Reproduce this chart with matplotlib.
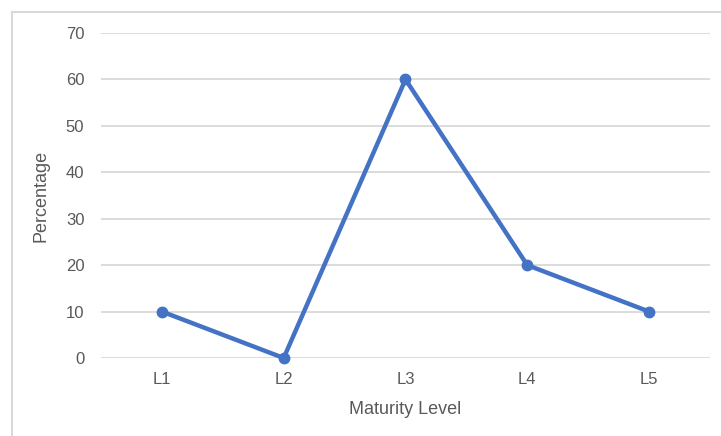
import matplotlib.pyplot as plt
from matplotlib.lines import Line2D

levels = ['L1', 'L2', 'L3', 'L4', 'L5']
percentage = [10, 0, 60, 20, 10]
y_ticks = [0, 10, 20, 30, 40, 50, 60, 70]

plt.rcParams['font.family'] = ['Liberation Sans', 'DejaVu Sans']

fig = plt.figure(figsize=(7.21, 4.36), dpi=100)
ax = fig.add_axes([0.1401, 0.1789, 0.8446, 0.7454])

x = list(range(len(levels)))
ax.plot(x, percentage, color='#4472C4', linewidth=3.2, marker='o', markersize=7.5,
        solid_capstyle='round', zorder=3, clip_on=False)

ax.set_xlim(-0.5, len(levels) - 0.5)
ax.set_ylim(0, 70)
ax.set_yticks(y_ticks)
ax.set_xticks(x)
ax.set_xticklabels(levels)
ax.grid(axis='y', color='#d9d9d9', linewidth=1.3)
ax.set_axisbelow(True)
for s in ax.spines.values():
    s.set_visible(False)
ax.tick_params(axis='both', length=0, labelsize=12, colors='#595959')
ax.tick_params(axis='y', pad=12)
ax.tick_params(axis='x', pad=10)
ax.set_xlabel('Maturity Level', fontsize=13, color='#595959', labelpad=10)
ax.set_ylabel('Percentage', fontsize=13, color='#595959', labelpad=12)

# chart-area border (top and left visible)
fig.add_artist(Line2D([12 / 721, 12 / 721], [0, 1 - 12 / 436], transform=fig.transFigure,
                      color='#d9d9d9', linewidth=1.5))
fig.add_artist(Line2D([12 / 721, 1], [1 - 12 / 436, 1 - 12 / 436], transform=fig.transFigure,
                      color='#d9d9d9', linewidth=1.5))

fig.savefig('out.png', dpi=100)
